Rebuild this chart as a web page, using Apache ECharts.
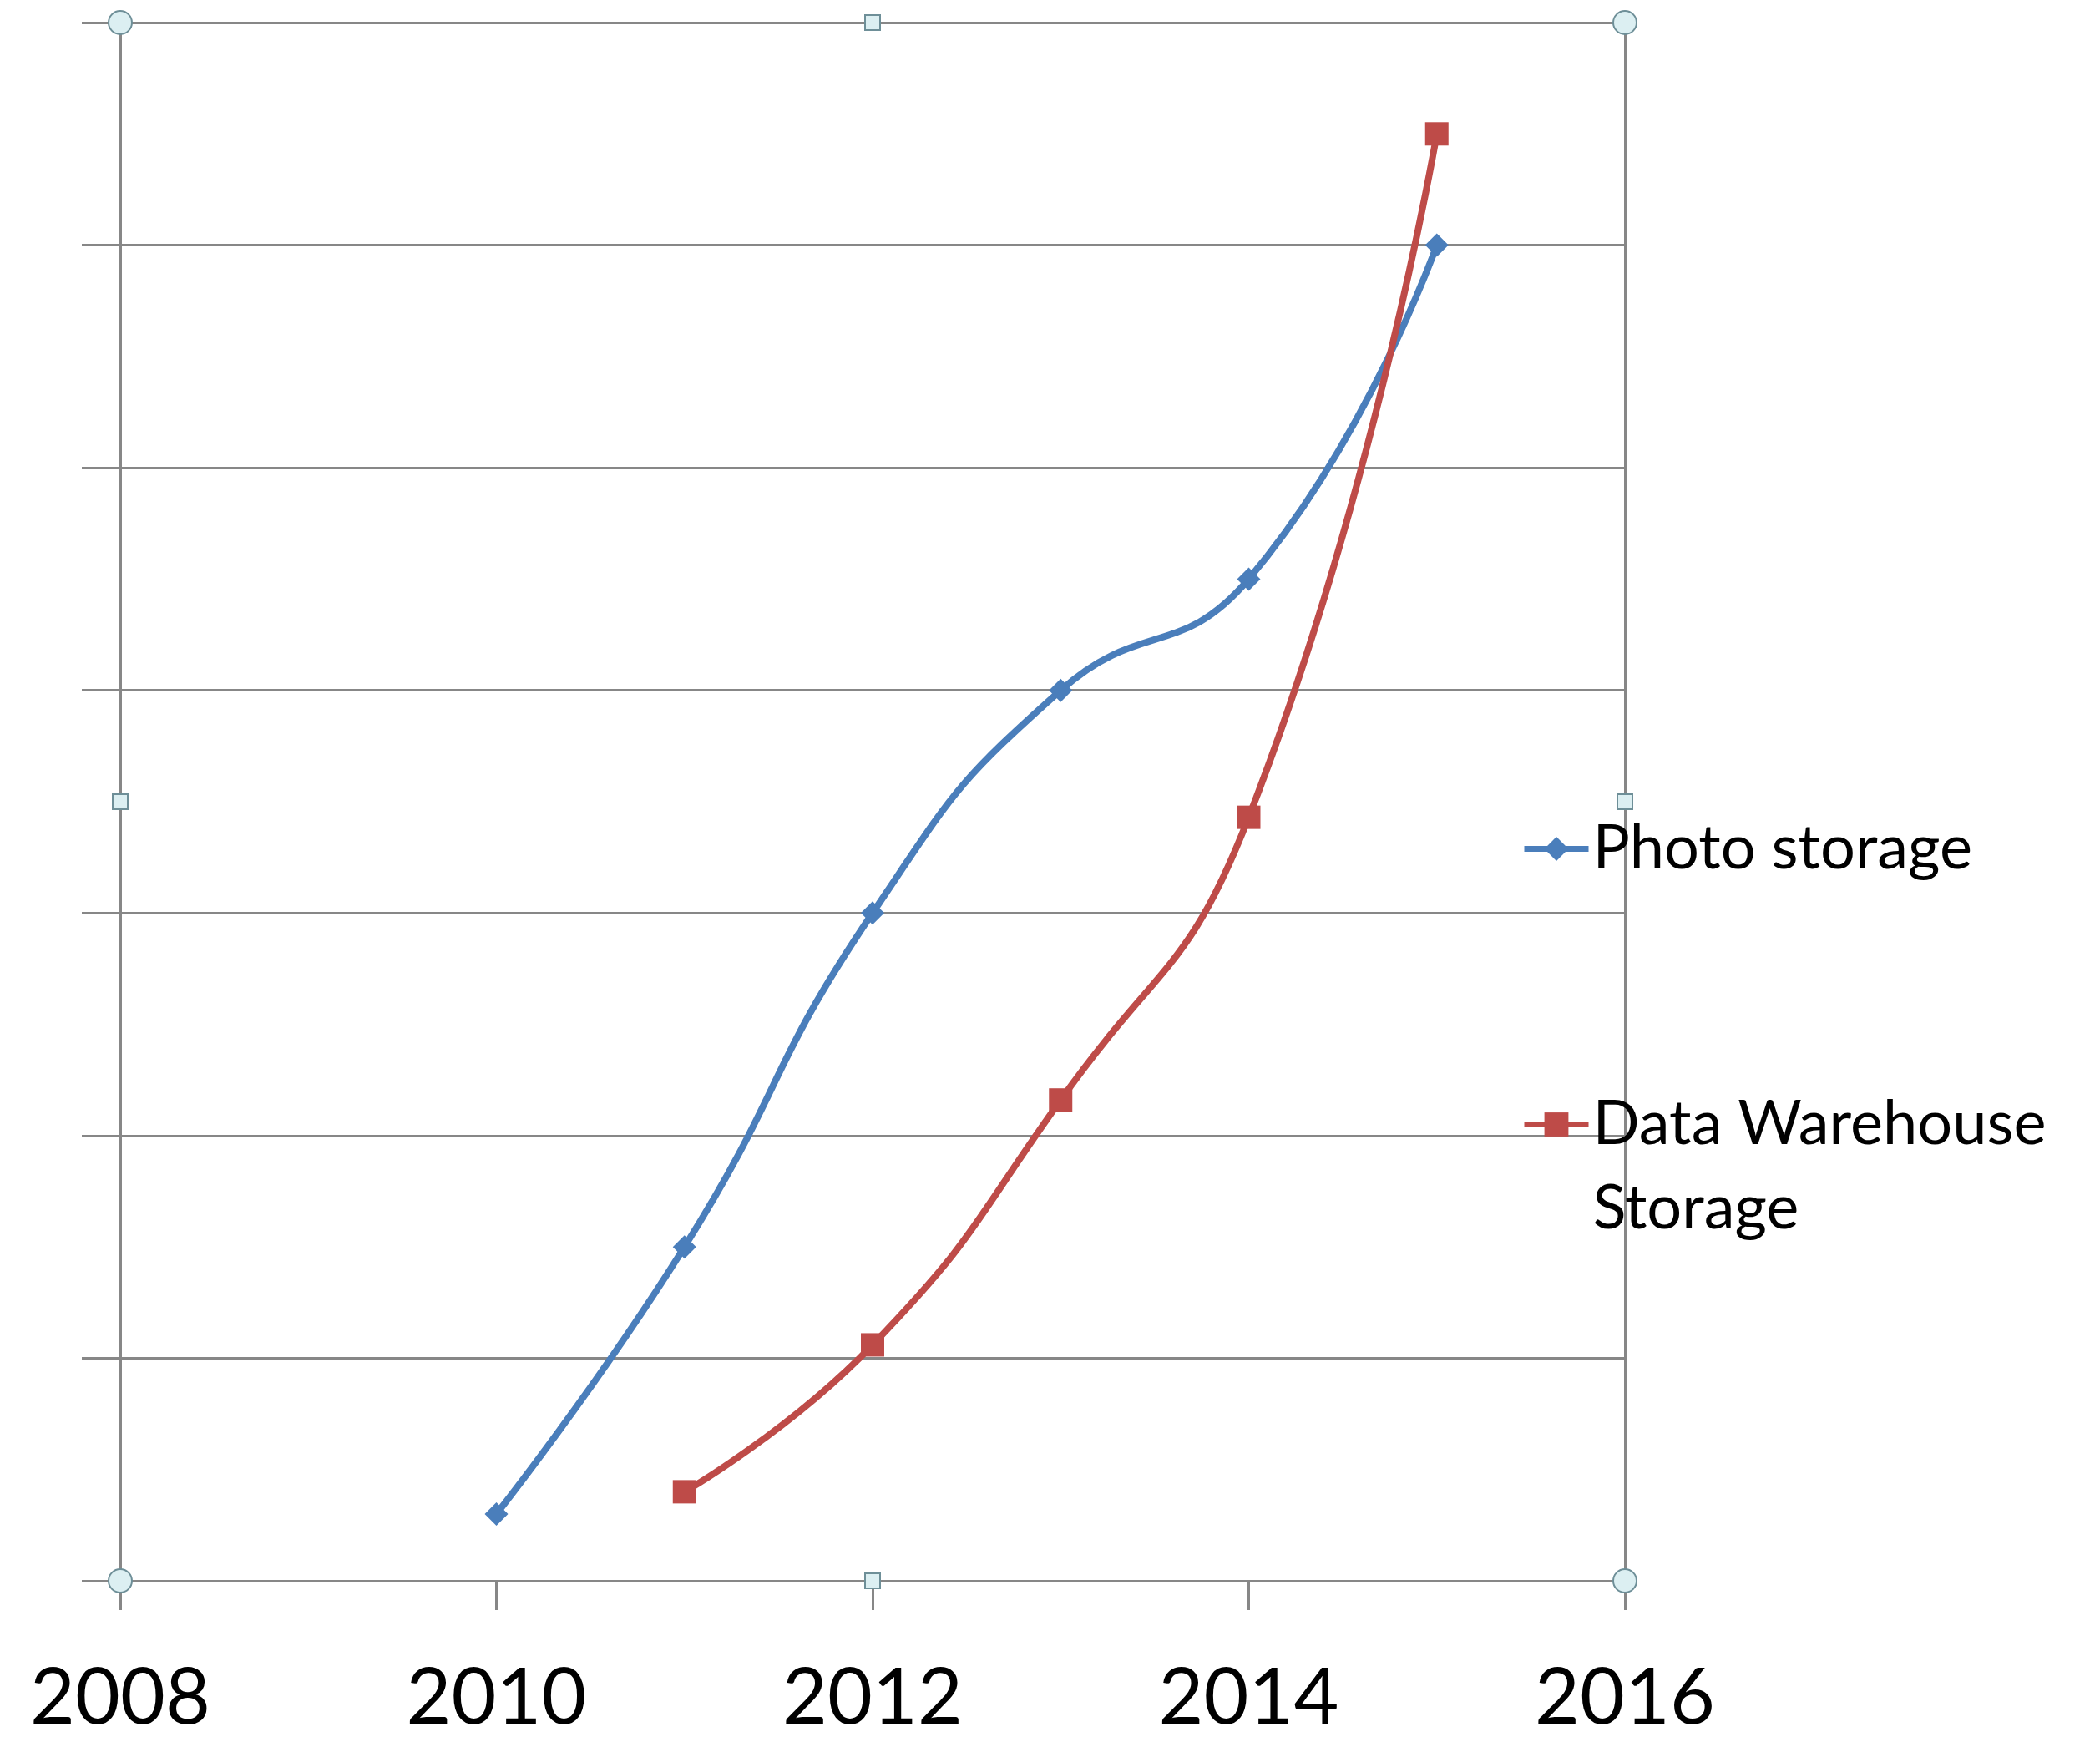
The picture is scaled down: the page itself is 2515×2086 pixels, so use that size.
<!DOCTYPE html>
<html>
<head>
<meta charset="utf-8">
<title>Storage growth</title>
<script src="https://cdn.jsdelivr.net/npm/echarts@6/dist/echarts.min.js"></script>
<style>
  html, body { margin: 0; padding: 0; background: #ffffff; }
  #chart { width: 2515px; height: 2086px; }
</style>
</head>
<body>
<div id="chart"></div>
<script>
// Series names (legend order)
const seriesNames = ['Photo storage', 'Data Warehouse Storage'];

// Years on the x axis
const photoYears = [2010, 2011, 2012, 2013, 2014, 2015];
const warehouseYears = [2011, 2012, 2013, 2014, 2015];

// Values (relative storage units)
const photoValues = [0.30, 1.50, 3.00, 4.00, 4.50, 6.00];
const warehouseValues = [0.40, 1.06, 2.16, 3.43, 6.50];

// Axis ranges
const xMin = 2008, xMax = 2016, xStep = 2;
const yMin = 0, yMax = 7, yStep = 1;

const FONT = 'Lato, "Open Sans", "Noto Sans", sans-serif';
const GRID_COLOR = '#878787';

function pairs(xs, ys) {
  return xs.map((x, i) => [x, ys[i]]);
}

// Legend labels: the long name wraps onto two lines; a blank leading line
// keeps the legend symbol level with the first line of text.
const legendLabels = {
  'Photo storage': 'Photo storage',
  'Data Warehouse Storage': ' \nData Warehouse\nStorage'
};

const chart = echarts.init(document.getElementById('chart'), null, { renderer: 'canvas' });

const option = {
  backgroundColor: '#ffffff',
  animation: false,
  grid: { left: 144, top: 27, right: 569, bottom: 193 },
  xAxis: {
    type: 'value',
    min: xMin, max: xMax, interval: xStep,
    axisLine: { show: true, lineStyle: { color: GRID_COLOR, width: 3 } },
    axisTick: { show: true, inside: false, length: 35, lineStyle: { color: GRID_COLOR, width: 3 } },
    splitLine: { show: false },
    axisLabel: {
      show: true, margin: 94, color: '#000000',
      fontFamily: FONT, fontSize: 93,
      formatter: v => String(v)
    }
  },
  yAxis: [
    {
      type: 'value',
      min: yMin, max: yMax, interval: yStep,
      axisLine: { show: true, lineStyle: { color: GRID_COLOR, width: 3 } },
      axisTick: { show: true, inside: false, length: 46, lineStyle: { color: GRID_COLOR, width: 3 } },
      splitLine: { show: true, lineStyle: { color: GRID_COLOR, width: 3 } },
      axisLabel: { show: false }
    },
    {
      // plot-area right border
      type: 'value', position: 'right',
      min: yMin, max: yMax, interval: yStep,
      axisLine: { show: true, lineStyle: { color: GRID_COLOR, width: 3 } },
      axisTick: { show: false },
      splitLine: { show: false },
      axisLabel: { show: false }
    }
  ],
  legend: {
    orient: 'vertical',
    left: 1822,
    top: 966,
    padding: 0,
    itemWidth: 77,
    itemHeight: 36,
    itemGap: 128,
    lineStyle: { width: 7 },
    textStyle: {
      fontFamily: FONT, fontSize: 74, color: '#000000', lineHeight: 101
    },
    formatter: name => legendLabels[name],
    data: seriesNames
  },
  series: [
    {
      name: seriesNames[0],
      type: 'line',
      smooth: 0.5,
      data: pairs(photoYears, photoValues),
      symbol: 'diamond',
      symbolSize: 28,
      lineStyle: { color: '#4A7EBB', width: 8 },
      itemStyle: { color: '#4A7EBB' }
    },
    {
      name: seriesNames[1],
      type: 'line',
      smooth: 0.5,
      data: pairs(warehouseYears, warehouseValues),
      symbol: 'rect',
      symbolSize: 28,
      lineStyle: { color: '#BE4B48', width: 8 },
      itemStyle: { color: '#BE4B48' }
    }
  ]
};

chart.setOption(option);

// Selection handles around the plot area: circles at corners, squares at edge midpoints
function handles() {
  const xMid = (xMin + xMax) / 2;
  const yMid = (yMin + yMax) / 2;
  const corners = [[xMin, yMax], [xMax, yMax], [xMin, yMin], [xMax, yMin]];
  const mids = [[xMid, yMax], [xMid, yMin], [xMin, yMid], [xMax, yMid]];
  const style = { fill: '#DCEFF2', stroke: '#6E8F98', lineWidth: 2 };
  const els = [];
  corners.forEach(p => {
    const [px, py] = chart.convertToPixel({ gridIndex: 0 }, p);
    els.push({ type: 'circle', shape: { cx: px, cy: py, r: 14 }, style, z: 100 });
  });
  mids.forEach(p => {
    const [px, py] = chart.convertToPixel({ gridIndex: 0 }, p);
    els.push({ type: 'rect', shape: { x: px - 9, y: py - 9, width: 18, height: 18 }, style, z: 100 });
  });
  return els;
}

chart.setOption({ graphic: { elements: handles() } });
</script>
</body>
</html>
